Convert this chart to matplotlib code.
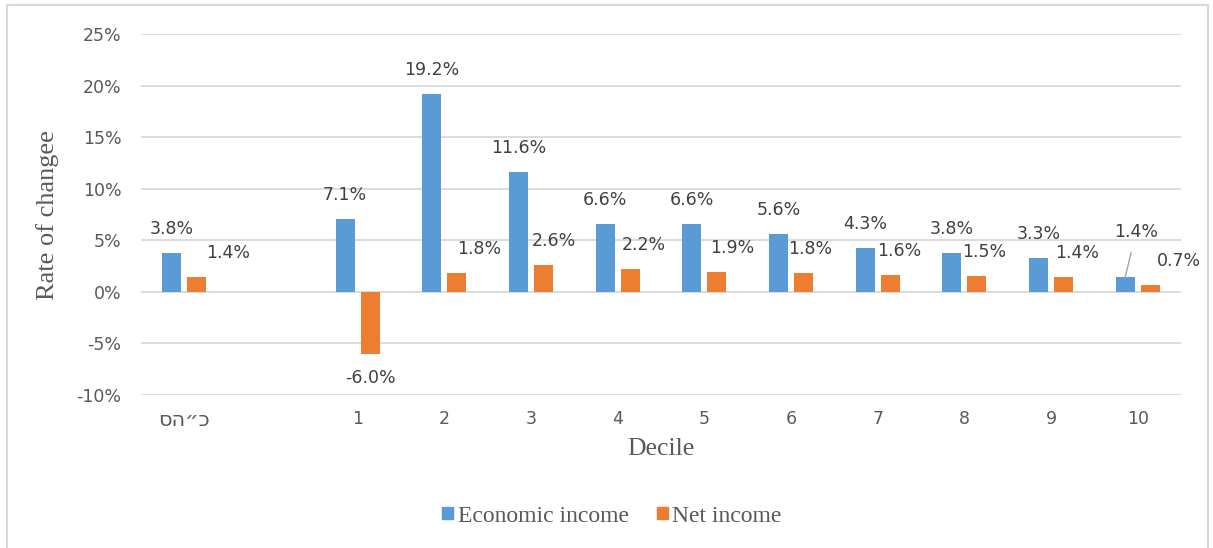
import numpy as np
import matplotlib.pyplot as plt
from matplotlib.patches import Rectangle, Patch

plt.rcParams['font.family'] = ['DejaVu Sans', 'Noto Sans']

# data
categories = ['סה״כ', '1', '2', '3', '4', '5', '6', '7', '8', '9', '10']
economic = [3.8, 7.1, 19.2, 11.6, 6.6, 6.6, 5.6, 4.3, 3.8, 3.3, 1.4]
net = [1.4, -6.0, 1.8, 2.6, 2.2, 1.9, 1.8, 1.6, 1.5, 1.4, 0.7]
yticks = [-10, -5, 0, 5, 10, 15, 20, 25]

# label nudges (pixels), as placed by hand in the original
net_dx = [31, 0, 22, 10, 14, 15, 7, 9, 7, 14, 29]

blue = '#5B9BD5'
orange = '#ED7D31'
grey = '#595959'

fig = plt.figure(figsize=(12.13, 5.48), dpi=100)
fig.patches.append(Rectangle((7 / 1213, -0.05), 1201 / 1213, 1.05 - 5 / 548,
                             transform=fig.transFigure, fill=False,
                             edgecolor='#D9D9D9', lw=1.5))

ax = fig.add_axes([141 / 1213, 1 - 395 / 548, 1040 / 1213, 361 / 548])

x = np.arange(len(categories)).astype(float)
x[1:] += 1  # empty slot after the total

w = 0.22
off = 0.145
ax.bar(x - off, economic, w, color=blue, zorder=3)
ax.bar(x + off, net, w, color=orange, zorder=3)

ax.set_xlim(-0.5, 11.5)
ax.set_ylim(-10, 25)
ax.set_yticks(yticks)
ax.set_yticklabels([f'{t}%' for t in yticks])
ax.set_xticks(x)
ax.set_xticklabels(categories)
ax.tick_params(length=0, labelsize=12.5, labelcolor=grey)
ax.tick_params(axis='y', pad=14)
ax.tick_params(axis='x', pad=11)
ax.get_xticklabels()[0].set_fontsize(15)
ax.grid(axis='y', color='#D9D9D9', lw=1.3, zorder=0)
for s in ax.spines.values():
    s.set_visible(False)

lab = dict(ha='center', va='center', fontsize=12.5, color='#404040',
           textcoords='offset pixels')
for i, (xi, v) in enumerate(zip(x, economic)):
    if i == len(economic) - 1:
        ax.annotate(f'{v:.1f}%', (xi - off, v), xytext=(11, 45),
                    arrowprops=dict(arrowstyle='-', color='#A6A6A6', lw=1,
                                    shrinkA=6, shrinkB=0), **lab)
    else:
        ax.annotate(f'{v:.1f}%', (xi - off, v), xytext=(0, 24), **lab)
for i, (xi, v) in enumerate(zip(x, net)):
    dy = 24 if v >= 0 else -24
    ax.annotate(f'{v:.1f}%', (xi + off, v), xytext=(net_dx[i], dy), **lab)

fig.text(48 / 1213, 1 - 215 / 548, 'Rate of changee', rotation=90,
         ha='center', va='center', fontsize=19, family='Liberation Serif', color=grey)
fig.text(661 / 1213, 1 - 449 / 548, 'Decile', ha='center', va='center',
         fontsize=18.5, family='Liberation Serif', color=grey)

handles = [Patch(color=blue, label='Economic income'),
           Patch(color=orange, label='Net income')]
fig.legend(handles=handles, loc='center', bbox_to_anchor=(612 / 1213, 1 - 516 / 548),
           ncol=2, frameon=False, handlelength=0.45, handleheight=0.45,
           handletextpad=0.2, columnspacing=1.2,
           prop={'family': 'Liberation Serif', 'size': 17}, labelcolor=grey)

fig.savefig('out.png', dpi=100)
